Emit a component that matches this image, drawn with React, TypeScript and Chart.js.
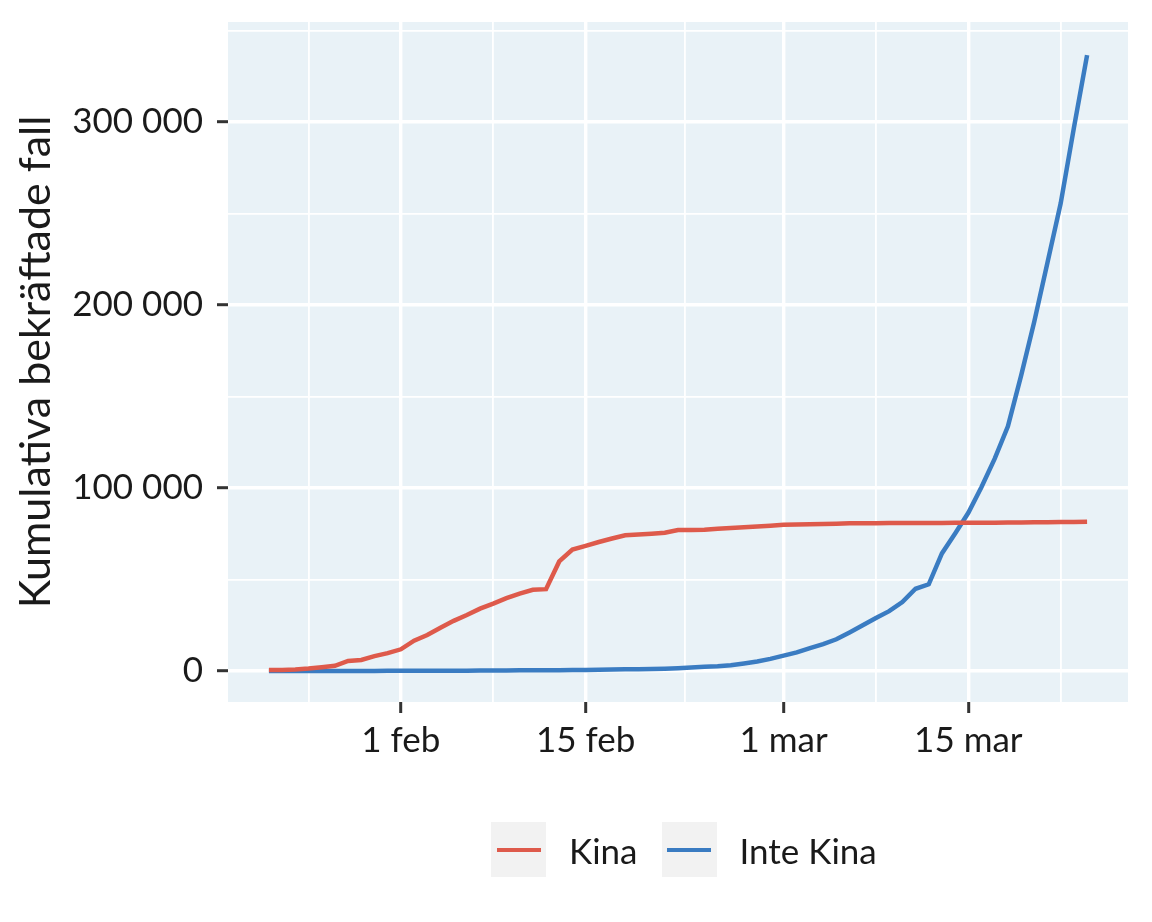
import React, { useEffect, useRef } from "react";
import { Chart, registerables } from "chart.js";

Chart.register(...registerables);

// Day 0 = 22 jan 2020, last day = 24 mar 2020
const chinaCases = [
  548, 643, 920, 1406, 2075, 2877, 5509, 6087, 8141, 9802,
  11891, 16630, 19716, 23707, 27440, 30587, 34110, 36814, 39829, 42354,
  44386, 44759, 59895, 66358, 68413, 70513, 72434, 74211, 74619, 75077,
  75550, 77001, 77022, 77241, 77754, 78166, 78600, 78928, 79356, 79932,
  80136, 80261, 80386, 80537, 80690, 80770, 80823, 80860, 80887, 80921,
  80932, 80945, 80977, 81003, 81033, 81058, 81102, 81156, 81250, 81305,
  81435, 81498, 81591,
];
const outsideCases = [
  7, 11, 21, 28, 43, 50, 69, 79, 93, 125,
  147, 157, 165, 185, 195, 207, 281, 306, 321, 408,
  416, 462, 473, 527, 617, 711, 824, 925, 1020, 1120,
  1269, 1571, 1936, 2320, 2652, 3222, 4146, 5184, 6655, 8437,
  10170, 12579, 14734, 17349, 21111, 25077, 28998, 32730, 37733, 44954,
  47420, 64260, 75124, 86451, 100541, 116044, 133719, 161414, 190958, 223202,
  255518, 296733, 336450,
];
const seriesNames = ["Kina", "Inte Kina"];
const seriesColors = ["#DE5A4B", "#3A7CC2"];

const xMajorTicks = [10, 24, 39, 53];
const xMajorLabels = ["1 feb", "15 feb", "1 mar", "15 mar"];
const xMinorTicks = [3, 17, 31.5, 46, 60];
const yMajorTicks = [0, 100000, 200000, 300000];
const yMajorLabels = ["0", "100 000", "200 000", "300 000"];
const yMinorTicks = [50000, 150000, 250000, 350000];

const yTitle = "Kumulativa bekräftade fall";

const FONT = "Lato, 'DejaVu Sans', sans-serif";
const TEXT = "#1a1a1a";

export default function App() {
  const ref = useRef<HTMLCanvasElement | null>(null);

  useEffect(() => {
    if (!ref.current) return;
    const days = chinaCases.map((_, i) => i);
    const panelBg = {
      id: "panelBg",
      beforeDraw(chart: any) {
        const { ctx, chartArea } = chart;
        ctx.save();
        ctx.fillStyle = "#E9F2F7";
        ctx.fillRect(chartArea.left, chartArea.top, chartArea.right - chartArea.left, chartArea.bottom - chartArea.top);
        ctx.restore();
      },
    };
    const isXMajor = (v: number) => xMajorTicks.indexOf(v) >= 0;
    const isYMajor = (v: number) => yMajorTicks.indexOf(v) >= 0;

    const chart = new Chart(ref.current, {
      type: "line",
      data: {
        datasets: [
          {
            label: seriesNames[0],
            data: days.map((d, i) => ({ x: d, y: chinaCases[i] })),
            borderColor: seriesColors[0],
            borderWidth: 4.5,
            pointRadius: 0,
            tension: 0,
          },
          {
            label: seriesNames[1],
            data: days.map((d, i) => ({ x: d, y: outsideCases[i] })),
            borderColor: seriesColors[1],
            borderWidth: 4.5,
            pointRadius: 0,
            tension: 0,
          },
        ],
      },
      plugins: [panelBg],
      options: {
        animation: false,
        responsive: false,
        maintainAspectRatio: false,
        layout: { padding: { left: 0, top: 22, right: 24, bottom: 120 } },
        plugins: { legend: { display: false }, tooltip: { enabled: false } },
        scales: {
          x: {
            type: "linear",
            min: -3.1,
            max: 65.1,
            afterBuildTicks: (s: any) => {
              s.ticks = [...xMajorTicks, ...xMinorTicks].sort((a, b) => a - b).map((v) => ({ value: v }));
            },
            afterFit: (s: any) => {
              s.height = 100;
              s.paddingLeft = 0;
              s.paddingRight = 0;
            },
            ticks: {
              autoSkip: false,
              maxRotation: 0,
              padding: 7,
              color: TEXT,
              font: { family: FONT, size: 35 },
              callback: (v: any) => {
                const i = xMajorTicks.indexOf(Number(v));
                return i >= 0 ? xMajorLabels[i] : "";
              },
            },
            grid: {
              color: "#ffffff",
              lineWidth: (c: any) => (c.tick && isXMajor(c.tick.value) ? 3.4 : 1.8),
              tickColor: (c: any) => (c.tick && isXMajor(c.tick.value) ? "#333333" : "rgba(0,0,0,0)"),
              tickLength: 11,
              tickWidth: 3,
            },
            border: { display: false },
          },
          y: {
            type: "linear",
            min: -16900,
            max: 354600,
            afterBuildTicks: (s: any) => {
              s.ticks = [...yMajorTicks, ...yMinorTicks].sort((a, b) => a - b).map((v) => ({ value: v }));
            },
            afterFit: (s: any) => {
              s.width = 228;
              s.paddingTop = 0;
              s.paddingBottom = 0;
            },
            ticks: {
              autoSkip: false,
              padding: 14,
              color: TEXT,
              font: { family: FONT, size: 35 },
              callback: (v: any) => {
                const i = yMajorTicks.indexOf(Number(v));
                return i >= 0 ? yMajorLabels[i] : "";
              },
            },
            grid: {
              color: "#ffffff",
              lineWidth: (c: any) => (c.tick && isYMajor(c.tick.value) ? 3.4 : 1.8),
              tickColor: (c: any) => (c.tick && isYMajor(c.tick.value) ? "#333333" : "rgba(0,0,0,0)"),
              tickLength: 11,
              tickWidth: 3,
            },
            border: { display: false },
            title: {
              display: true,
              text: yTitle,
              color: TEXT,
              font: { family: FONT, size: 43 },
              padding: { top: 10, bottom: 0 },
            },
          },
        },
      },
    } as any);
    return () => chart.destroy();
  }, []);

  return (
    <div style={{ position: "absolute", left: 0, top: 0, width: 1152, height: 922, background: "#fff" }}>
      <canvas ref={ref} width={1152} height={922} style={{ width: 1152, height: 922, display: "block" }} />
      <div
        style={{
          position: "absolute",
          left: 491,
          top: 822,
          display: "flex",
          alignItems: "center",
          fontFamily: FONT,
          fontSize: 35,
          color: TEXT,
        }}
      >
        {seriesNames.map((name, i) => (
          <div key={name} style={{ display: "flex", alignItems: "center", marginRight: i === 0 ? 24 : 0 }}>
            <div
              style={{
                width: 55,
                height: 55,
                background: "#F2F2F2",
                display: "flex",
                alignItems: "center",
                justifyContent: "center",
              }}
            >
              <div style={{ width: 44, height: 4, background: seriesColors[i] }} />
            </div>
            <span style={{ marginLeft: 23 }}>{name}</span>
          </div>
        ))}
      </div>
    </div>
  );
}
